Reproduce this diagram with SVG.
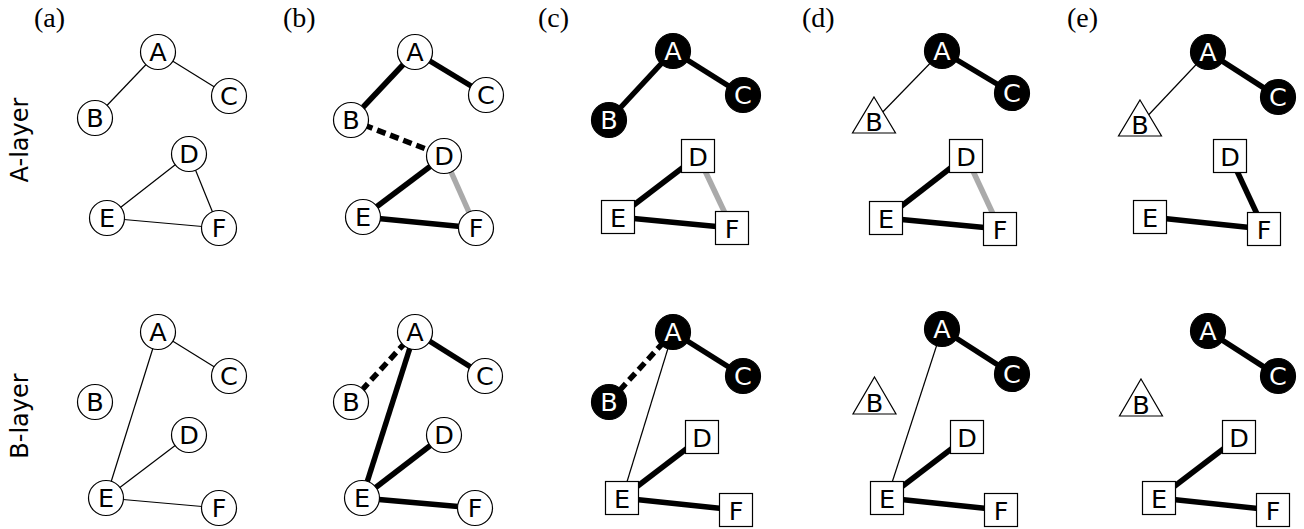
<svg xmlns="http://www.w3.org/2000/svg" width="1304" height="529" viewBox="0 0 1304 529">
<style>
.c{fill:#fff;stroke:#000;stroke-width:1.2}
.k{fill:#000;stroke:#000;stroke-width:1.2}
.s{fill:#fff;stroke:#000;stroke-width:1.2}
.t{fill:#fff;stroke:#000;stroke-width:1.2;stroke-linejoin:miter}
.l{font-family:"DejaVu Sans",sans-serif;font-size:25.5px;text-anchor:middle;fill:#000}
.w{fill:#fff}
.p{font-family:"Liberation Serif",serif;font-size:28px;fill:#000}
.y{font-family:"DejaVu Sans",sans-serif;font-size:24px;text-anchor:middle;fill:#000}
.n{stroke:#000;stroke-width:1.2;fill:none}
.h{stroke:#000;stroke-width:5.5;fill:none}
.d{stroke:#000;stroke-width:5.5;stroke-dasharray:9,5;fill:none}
.g{stroke:#aaa;stroke-width:5.5;fill:none}
</style>
<g id="labels">
<text class="p" x="34" y="27">(a)</text>
<text class="p" x="283" y="27">(b)</text>
<text class="p" x="538" y="27">(c)</text>
<text class="p" x="802" y="27">(d)</text>
<text class="p" x="1067" y="27">(e)</text>
<text class="y" transform="translate(28,140) rotate(-90)">A-layer</text>
<text class="y" transform="translate(28,416) rotate(-90)">B-layer</text>
</g>
<g id="connectors">
<line class="n" x1="158" y1="52" x2="95" y2="118"/>
<line class="n" x1="158" y1="52" x2="229" y2="96"/>
<line class="n" x1="189" y1="154" x2="107" y2="218"/>
<line class="n" x1="189" y1="154" x2="219" y2="228"/>
<line class="n" x1="107" y1="218" x2="219" y2="228"/>
<line class="n" x1="158" y1="332" x2="229" y2="376"/>
<line class="n" x1="158" y1="332" x2="106" y2="498"/>
<line class="n" x1="106" y1="498" x2="189" y2="435"/>
<line class="n" x1="106" y1="498" x2="219" y2="508"/>
<line class="h" x1="415" y1="52" x2="351" y2="120"/>
<line class="h" x1="415" y1="52" x2="486" y2="95"/>
<line class="d" x1="351" y1="120" x2="444" y2="156"/>
<line class="h" x1="444" y1="156" x2="363" y2="217"/>
<line class="g" x1="444" y1="156" x2="476" y2="228"/>
<line class="h" x1="363" y1="217" x2="476" y2="228"/>
<line class="d" x1="415" y1="332" x2="351" y2="402"/>
<line class="h" x1="415" y1="332" x2="485" y2="376"/>
<line class="h" x1="415" y1="332" x2="362" y2="498"/>
<line class="h" x1="362" y1="498" x2="444" y2="435"/>
<line class="h" x1="362" y1="498" x2="475" y2="508"/>
<line class="h" x1="673" y1="51" x2="609" y2="120"/>
<line class="h" x1="673" y1="51" x2="743" y2="95"/>
<line class="h" x1="698" y1="156" x2="618" y2="217"/>
<line class="g" x1="698" y1="156" x2="732" y2="228"/>
<line class="h" x1="618" y1="217" x2="732" y2="228"/>
<line class="d" x1="673" y1="332" x2="609" y2="402"/>
<line class="h" x1="673" y1="332" x2="743" y2="376"/>
<line class="n" x1="673" y1="332" x2="622" y2="498"/>
<line class="h" x1="622" y1="498" x2="702" y2="437"/>
<line class="h" x1="622" y1="498" x2="736" y2="510"/>
<line class="n" x1="942" y1="51" x2="874" y2="121"/>
<line class="h" x1="942" y1="51" x2="1012" y2="93"/>
<line class="h" x1="966" y1="156" x2="886" y2="218"/>
<line class="g" x1="966" y1="156" x2="1000" y2="229"/>
<line class="h" x1="886" y1="218" x2="1000" y2="229"/>
<line class="h" x1="942" y1="329" x2="1012" y2="374"/>
<line class="n" x1="942" y1="329" x2="887" y2="498"/>
<line class="h" x1="887" y1="498" x2="967" y2="437"/>
<line class="h" x1="887" y1="498" x2="1001" y2="510"/>
<line class="n" x1="1208" y1="52" x2="1140" y2="124"/>
<line class="h" x1="1208" y1="52" x2="1278" y2="97"/>
<line class="h" x1="1230" y1="156" x2="1264" y2="229"/>
<line class="h" x1="1150" y1="217" x2="1264" y2="229"/>
<line class="h" x1="1208" y1="331" x2="1278" y2="376"/>
<line class="h" x1="1159" y1="498" x2="1239" y2="437"/>
<line class="h" x1="1159" y1="498" x2="1273" y2="510"/>
</g>
<g id="aA1"><circle class="c" cx="158" cy="52" r="17.5"/><text class="l" x="158" y="61">A</text></g>
<g id="aB1"><circle class="c" cx="95" cy="118" r="17.5"/><text class="l" x="95" y="127">B</text></g>
<g id="aC1"><circle class="c" cx="229" cy="96" r="17.5"/><text class="l" x="229" y="105">C</text></g>
<g id="aD1"><circle class="c" cx="189" cy="154" r="17.5"/><text class="l" x="189" y="163">D</text></g>
<g id="aE1"><circle class="c" cx="107" cy="218" r="17.5"/><text class="l" x="107" y="227">E</text></g>
<g id="aF1"><circle class="c" cx="219" cy="228" r="17.5"/><text class="l" x="219" y="237">F</text></g>
<g id="aA2"><circle class="c" cx="158" cy="332" r="17.5"/><text class="l" x="158" y="341">A</text></g>
<g id="aB2"><circle class="c" cx="95" cy="402" r="17.5"/><text class="l" x="95" y="411">B</text></g>
<g id="aC2"><circle class="c" cx="229" cy="376" r="17.5"/><text class="l" x="229" y="385">C</text></g>
<g id="aD2"><circle class="c" cx="189" cy="435" r="17.5"/><text class="l" x="189" y="444">D</text></g>
<g id="aE2"><circle class="c" cx="106" cy="498" r="17.5"/><text class="l" x="106" y="507">E</text></g>
<g id="aF2"><circle class="c" cx="219" cy="508" r="17.5"/><text class="l" x="219" y="517">F</text></g>
<g id="bA1"><circle class="c" cx="415" cy="52" r="17.5"/><text class="l" x="415" y="61">A</text></g>
<g id="bB1"><circle class="c" cx="351" cy="120" r="17.5"/><text class="l" x="351" y="129">B</text></g>
<g id="bC1"><circle class="c" cx="486" cy="95" r="17.5"/><text class="l" x="486" y="104">C</text></g>
<g id="bD1"><circle class="c" cx="444" cy="156" r="17.5"/><text class="l" x="444" y="165">D</text></g>
<g id="bE1"><circle class="c" cx="363" cy="217" r="17.5"/><text class="l" x="363" y="226">E</text></g>
<g id="bF1"><circle class="c" cx="476" cy="228" r="17.5"/><text class="l" x="476" y="237">F</text></g>
<g id="bA2"><circle class="c" cx="415" cy="332" r="17.5"/><text class="l" x="415" y="341">A</text></g>
<g id="bB2"><circle class="c" cx="351" cy="402" r="17.5"/><text class="l" x="351" y="411">B</text></g>
<g id="bC2"><circle class="c" cx="485" cy="376" r="17.5"/><text class="l" x="485" y="385">C</text></g>
<g id="bD2"><circle class="c" cx="444" cy="435" r="17.5"/><text class="l" x="444" y="444">D</text></g>
<g id="bE2"><circle class="c" cx="362" cy="498" r="17.5"/><text class="l" x="362" y="507">E</text></g>
<g id="bF2"><circle class="c" cx="475" cy="508" r="17.5"/><text class="l" x="475" y="517">F</text></g>
<g id="cA1"><circle class="k" cx="673" cy="51" r="17.5"/><text class="l w" x="673" y="60">A</text></g>
<g id="cB1"><circle class="k" cx="609" cy="120" r="17.5"/><text class="l w" x="609" y="129">B</text></g>
<g id="cC1"><circle class="k" cx="743" cy="95" r="17.5"/><text class="l w" x="743" y="104">C</text></g>
<g id="cD1"><rect class="s" x="681.5" y="139.5" width="33" height="33"/><text class="l" x="698" y="165.5">D</text></g>
<g id="cE1"><rect class="s" x="601.5" y="200.5" width="33" height="33"/><text class="l" x="618" y="226.5">E</text></g>
<g id="cF1"><rect class="s" x="715.5" y="211.5" width="33" height="33"/><text class="l" x="732" y="237.5">F</text></g>
<g id="cA2"><circle class="k" cx="673" cy="332" r="17.5"/><text class="l w" x="673" y="341">A</text></g>
<g id="cB2"><circle class="k" cx="609" cy="402" r="17.5"/><text class="l w" x="609" y="411">B</text></g>
<g id="cC2"><circle class="k" cx="743" cy="376" r="17.5"/><text class="l w" x="743" y="385">C</text></g>
<g id="cD2"><rect class="s" x="685.5" y="420.5" width="33" height="33"/><text class="l" x="702" y="446.5">D</text></g>
<g id="cE2"><rect class="s" x="605.5" y="481.5" width="33" height="33"/><text class="l" x="622" y="507.5">E</text></g>
<g id="cF2"><rect class="s" x="719.5" y="493.5" width="33" height="33"/><text class="l" x="736" y="519.5">F</text></g>
<g id="dA1"><circle class="k" cx="942" cy="51" r="17.5"/><text class="l w" x="942" y="60">A</text></g>
<g id="dB1"><polygon class="t" points="874,97 895.5,133 852.5,133"/><text class="l" x="874" y="130.5">B</text></g>
<g id="dC1"><circle class="k" cx="1012" cy="93" r="17.5"/><text class="l w" x="1012" y="102">C</text></g>
<g id="dD1"><rect class="s" x="949.5" y="139.5" width="33" height="33"/><text class="l" x="966" y="165.5">D</text></g>
<g id="dE1"><rect class="s" x="869.5" y="201.5" width="33" height="33"/><text class="l" x="886" y="227.5">E</text></g>
<g id="dF1"><rect class="s" x="983.5" y="212.5" width="33" height="33"/><text class="l" x="1000" y="238.5">F</text></g>
<g id="dA2"><circle class="k" cx="942" cy="329" r="17.5"/><text class="l w" x="942" y="338">A</text></g>
<g id="dB2"><polygon class="t" points="874.5,377 896,414 853,414"/><text class="l" x="874.5" y="411.5">B</text></g>
<g id="dC2"><circle class="k" cx="1012" cy="374" r="17.5"/><text class="l w" x="1012" y="383">C</text></g>
<g id="dD2"><rect class="s" x="950.5" y="420.5" width="33" height="33"/><text class="l" x="967" y="446.5">D</text></g>
<g id="dE2"><rect class="s" x="870.5" y="481.5" width="33" height="33"/><text class="l" x="887" y="507.5">E</text></g>
<g id="dF2"><rect class="s" x="984.5" y="493.5" width="33" height="33"/><text class="l" x="1001" y="519.5">F</text></g>
<g id="eA1"><circle class="k" cx="1208" cy="52" r="17.5"/><text class="l w" x="1208" y="61">A</text></g>
<g id="eB1"><polygon class="t" points="1140,100 1161.5,136 1118.5,136"/><text class="l" x="1140" y="133.5">B</text></g>
<g id="eC1"><circle class="k" cx="1278" cy="97" r="17.5"/><text class="l w" x="1278" y="106">C</text></g>
<g id="eD1"><rect class="s" x="1213.5" y="139.5" width="33" height="33"/><text class="l" x="1230" y="165.5">D</text></g>
<g id="eE1"><rect class="s" x="1133.5" y="200.5" width="33" height="33"/><text class="l" x="1150" y="226.5">E</text></g>
<g id="eF1"><rect class="s" x="1247.5" y="212.5" width="33" height="33"/><text class="l" x="1264" y="238.5">F</text></g>
<g id="eA2"><circle class="k" cx="1208" cy="331" r="17.5"/><text class="l w" x="1208" y="340">A</text></g>
<g id="eB2"><polygon class="t" points="1141,379 1162.5,416 1119.5,416"/><text class="l" x="1141" y="413.5">B</text></g>
<g id="eC2"><circle class="k" cx="1278" cy="376" r="17.5"/><text class="l w" x="1278" y="385">C</text></g>
<g id="eD2"><rect class="s" x="1222.5" y="420.5" width="33" height="33"/><text class="l" x="1239" y="446.5">D</text></g>
<g id="eE2"><rect class="s" x="1142.5" y="481.5" width="33" height="33"/><text class="l" x="1159" y="507.5">E</text></g>
<g id="eF2"><rect class="s" x="1256.5" y="493.5" width="33" height="33"/><text class="l" x="1273" y="519.5">F</text></g>
</svg>
